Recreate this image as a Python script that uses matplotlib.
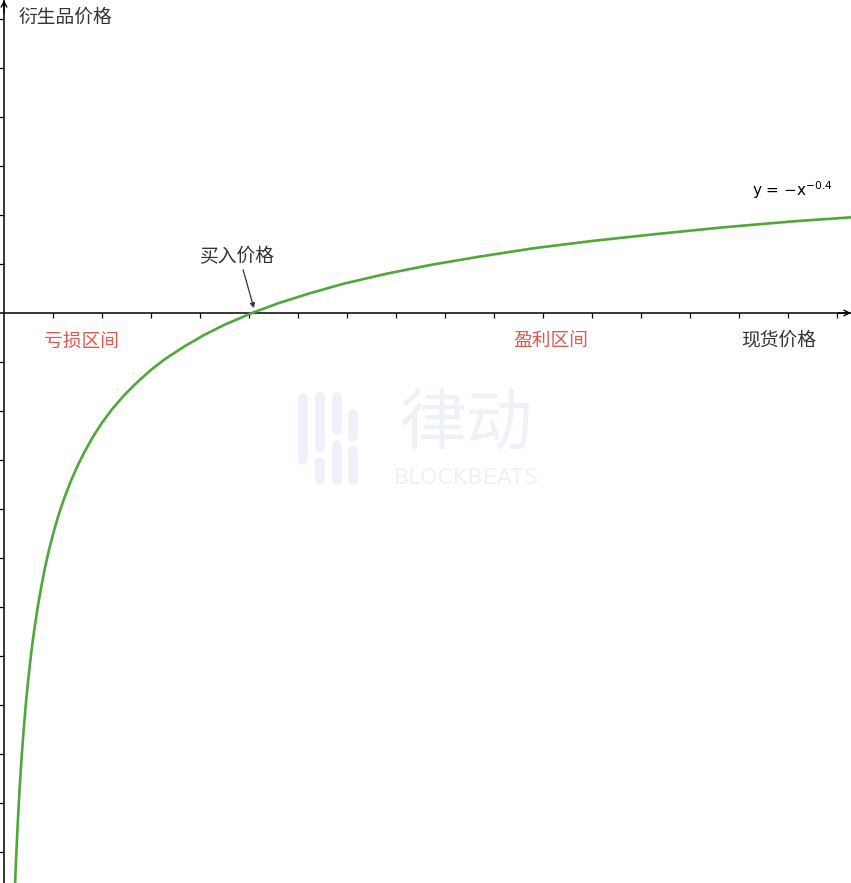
import matplotlib
matplotlib.use("Agg")
import matplotlib.pyplot as plt
from matplotlib.lines import Line2D

plt.rcParams['font.family'] = ['Noto Sans CJK SC', 'DejaVu Sans']
plt.rcParams['mathtext.fontset'] = 'dejavusans'

# curve points (grid units)
spot = [0.21, 0.24, 0.28, 0.32, 0.36, 0.40, 0.45, 0.50, 0.56, 0.62, 0.69, 0.76,
        0.84, 0.92, 1.01, 1.12, 1.24, 1.36, 1.50, 1.65, 1.82, 2.0, 2.2, 2.45,
        2.7, 3.0, 3.3, 3.7, 4.1, 4.5, 5.06, 5.6, 6.2, 6.9, 7.8, 8.7, 9.7,
        10.8, 12.0, 13.3, 14.7, 16.1, 17.4]
deriv = [-12.08, -11.29, -10.41, -9.68, -9.06, -8.52, -7.93, -7.43, -6.90, -6.45,
         -5.99, -5.59, -5.18, -4.83, -4.48, -4.10, -3.75, -3.44, -3.12, -2.82,
         -2.52, -2.24, -1.97, -1.68, -1.43, -1.16, -0.93, -0.67, -0.44, -0.24,
         0.0, 0.20, 0.39, 0.59, 0.80, 0.98, 1.15, 1.32, 1.47, 1.61, 1.75, 1.87,
         1.96]

x_ticks = list(range(1, 18))
y_ticks = [v for v in range(-11, 7) if v != 0]

green = "#4fa83a"
red = "#e8564b"
dark = "#333333"

fig = plt.figure(figsize=(8.51, 8.83), dpi=100, facecolor="white")
ax = fig.add_axes([0, 0, 1, 1])
ax.patch.set_alpha(0)
ax.set_xlim(-4 / 49, 847 / 49)
ax.set_ylim(-570 / 49, 313 / 49)

# faint watermark
wm = "#eef1f6"
fig.text(466 / 851, 1 - 426 / 883, "律动", fontsize=48, color=wm,
         ha="center", va="center", zorder=0)
fig.text(466 / 851, 1 - 478 / 883, "BLOCKBEATS", fontsize=16, color=wm,
         ha="center", va="center", zorder=0, fontfamily="DejaVu Sans")
for xs, segs in [(303, [(398, 460), (480, 480)]),
                 (320, [(397, 448), (462, 480)]),
                 (337, [(397, 430), (445, 480)]),
                 (353, [(414, 437), (450, 480)])]:
    for y0, y1 in segs:
        fig.add_artist(Line2D([xs / 851, xs / 851], [1 - y0 / 883, 1 - y1 / 883],
                              color="#eef1f8", lw=7, solid_capstyle="round", zorder=0))

ax.plot(spot, deriv, color=green, lw=1.9, zorder=3, solid_joinstyle="round")

for s in ["top", "right"]:
    ax.spines[s].set_visible(False)
ax.spines["left"].set_position(("data", 0))
ax.spines["bottom"].set_position(("data", 0))
for s in ["left", "bottom"]:
    ax.spines[s].set_linewidth(1.1)
ax.set_xticks(x_ticks)
ax.set_yticks(y_ticks)
ax.set_xticklabels([])
ax.set_yticklabels([])
ax.tick_params(direction="out", length=3.5, width=0.9, color="black")

# axis arrow heads
ax.annotate("", xy=(1, 0), xycoords=("axes fraction", "data"),
            xytext=(0.985, 0), textcoords=("axes fraction", "data"),
            arrowprops=dict(arrowstyle="->", lw=1.0, color="black", shrinkA=0, shrinkB=0))
ax.annotate("", xy=(0, 1), xycoords=("data", "axes fraction"),
            xytext=(0, 0.985), textcoords=("data", "axes fraction"),
            arrowprops=dict(arrowstyle="->", lw=1.0, color="black", shrinkA=0, shrinkB=0))

ax.text(0.29, 6.04, "衍生品价格", fontsize=13.5, color=dark, ha="left", va="center")
ax.text(15.82, -0.55, "现货价格", fontsize=13.5, color=dark, ha="center", va="center")
ax.text(1.59, -0.57, "亏损区间", fontsize=13.5, color=red, ha="center", va="center")
ax.text(11.16, -0.57, "盈利区间", fontsize=13.5, color=red, ha="center", va="center")
ax.text(4.755, 1.14, "买入价格", fontsize=13.5, color=dark, ha="center", va="center")
ax.annotate("", xy=(5.10, 0.10), xytext=(4.88, 0.88),
            arrowprops=dict(arrowstyle="-|>", lw=0.9, color="#333333",
                            mutation_scale=7, shrinkA=0, shrinkB=0))
ax.text(15.27, 2.51, "y = −x$^{−0.4}$", fontsize=11,
        color="black", ha="left", va="center", family=["DejaVu Sans"])

fig.savefig("out.png", dpi=100)
